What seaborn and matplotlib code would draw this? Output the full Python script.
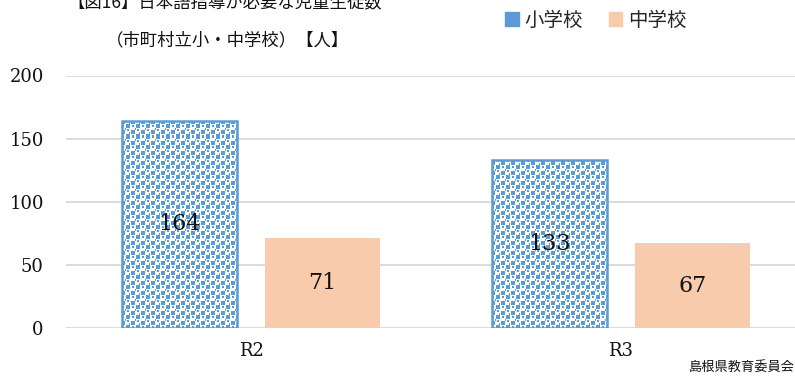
import numpy as np
import pandas as pd
import matplotlib
matplotlib.use("Agg")
import matplotlib.pyplot as plt
from matplotlib.patches import Patch
import seaborn as sns

# data
years = ["R2", "R3"]
schools = ["小学校", "中学校"]
elementary = [164, 133]
junior_high = [71, 67]

blue = "#5B9BD5"
orange = "#F8CBAD"

df = pd.DataFrame({
    "year": years * 2,
    "school": [schools[0]] * 2 + [schools[1]] * 2,
    "count": elementary + junior_high,
})

sns.set_style("white")
plt.rcParams["font.family"] = ["Noto Sans CJK JP", "DejaVu Sans"]
serif = ["DejaVu Serif"]

fig = plt.figure(figsize=(7.95, 3.83), dpi=100)
ax = fig.add_axes([66 / 795, 55 / 383, 740 / 795, 252.5 / 383])

sns.barplot(data=df, x="year", y="count", hue="school", hue_order=schools,
            palette=[blue, orange], saturation=1, width=0.773, gap=0.2, ax=ax,
            legend=False, zorder=2)

# confetti-like pattern for the elementary bars
tile = np.array([
    [1, 1, 1, 1, 0, 0, 0, 0, 0, 0],
    [1, 1, 1, 1, 0, 0, 1, 1, 0, 0],
    [1, 1, 1, 1, 0, 0, 1, 1, 0, 0],
    [1, 1, 1, 1, 0, 0, 0, 0, 0, 0],
    [0, 0, 0, 0, 0, 0, 0, 0, 0, 1],
    [0, 1, 1, 0, 0, 0, 0, 0, 0, 1],
    [0, 1, 1, 0, 0, 1, 1, 1, 1, 0],
    [0, 0, 0, 0, 0, 1, 1, 1, 1, 0],
    [0, 0, 0, 1, 0, 1, 1, 1, 1, 0],
    [0, 0, 0, 1, 0, 1, 1, 1, 1, 0],
])
pat = np.tile(tile, (27, 75))[:253, :740]
rgb_blue = np.array(matplotlib.colors.to_rgb(blue))
img = np.where(pat[..., None] == 1, rgb_blue, np.ones(3))

for bar in ax.containers[0]:
    bar.set_facecolor("none")
    bar.set_edgecolor(blue)
    bar.set_linewidth(1.8)
    bar.set_zorder(3)
    im = ax.imshow(img, extent=(-0.5, 1.5, 0, 200), aspect="auto",
                   interpolation="nearest", zorder=2.5)
    im.set_clip_path(bar)

for bar in ax.containers[1]:
    bar.set_edgecolor("none")

ax.set_xlim(-0.5, 1.5)
ax.set_ylim(0, 200)

for cont in ax.containers:
    ax.bar_label(cont, label_type="center", fontsize=16, family=serif,
                 color="#111111", zorder=4)

ax.set_yticks([0, 50, 100, 150, 200])
ax.yaxis.grid(True, color="#D9D9D9", linewidth=1.3)
ax.set_axisbelow(True)
for s in ax.spines.values():
    s.set_visible(False)
ax.tick_params(length=0, labelsize=13, colors="#111111")
ax.tick_params(axis="y", pad=16)
ax.tick_params(axis="x", pad=10)
for lab in ax.get_xticklabels() + ax.get_yticklabels():
    lab.set_family(serif)
ax.set_xlabel("")
ax.set_ylabel("")

# title (top line partly cut off as in the source image)
fig.text(225 / 795, 1 - 2 / 383, "【図16】日本語指導が必要な児童生徒数",
         ha="center", va="center", fontsize=12.5, color="#111111")
fig.text(228 / 795, 1 - 40 / 383, "（市町村立小・中学校）【人】",
         ha="center", va="center", fontsize=12.5, color="#111111")

handles = [Patch(facecolor=blue, edgecolor=blue), Patch(facecolor=orange, edgecolor=orange)]
fig.legend(handles, schools, loc="center", bbox_to_anchor=(596 / 795, 1 - 20 / 383),
           ncol=2, frameon=False, fontsize=14, handlelength=0.7, handleheight=0.7,
           handletextpad=0.3, columnspacing=1.3)

fig.text(1.0, 1 - 367 / 383, "島根県教育委員会", ha="right", va="center",
         fontsize=9.5, color="#111111")

fig.savefig("out.png", dpi=100)
